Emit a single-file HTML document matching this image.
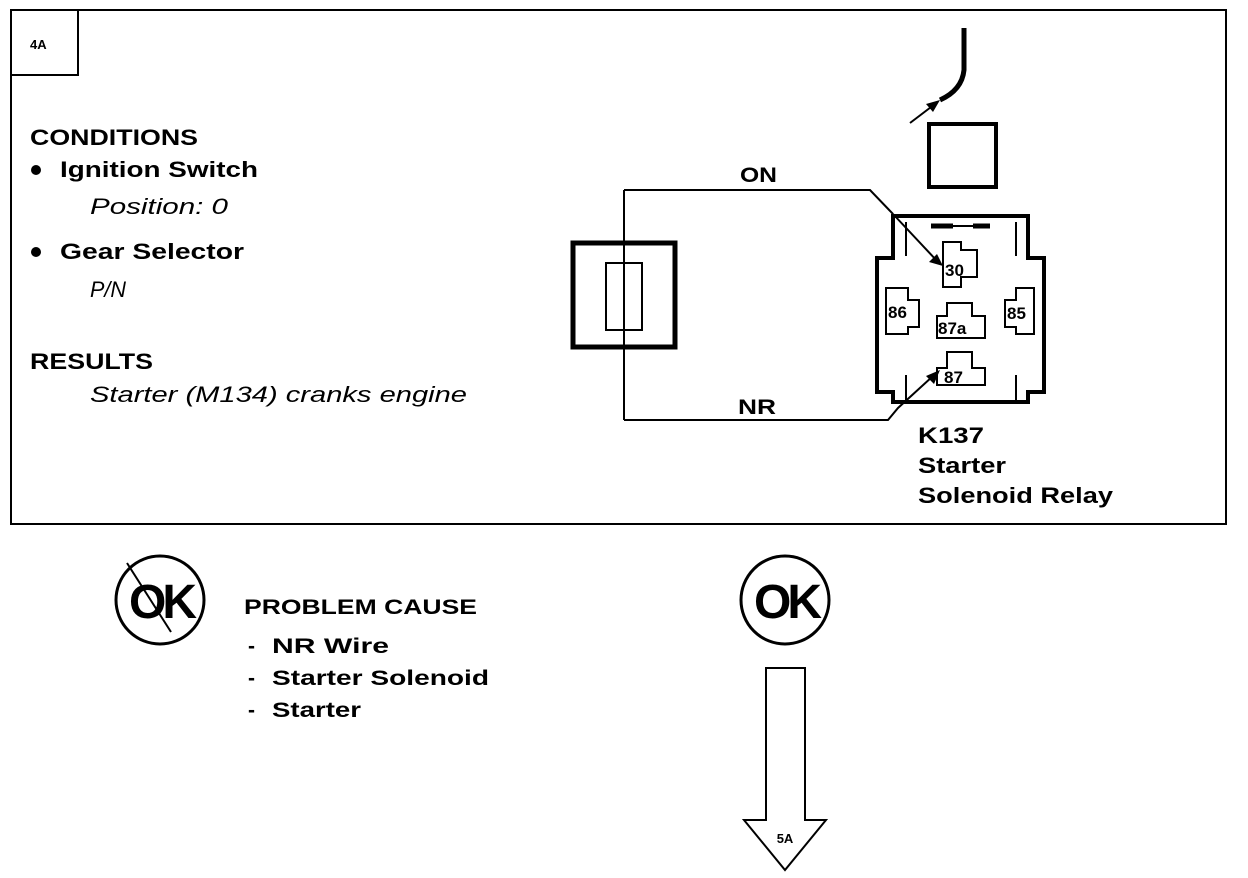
<!DOCTYPE html>
<html><head><style>body{margin:0;background:#fff}svg{display:block}text{font-family:"Liberation Sans",Arial,sans-serif;fill:#000}</style></head><body>
<svg width="1248" height="878" viewBox="0 0 1248 878" xmlns="http://www.w3.org/2000/svg">
<rect x="11" y="10" width="1215" height="514" fill="none" stroke="#000" stroke-width="2"/>
<path d="M11 75 H78 V10" fill="none" stroke="#000" stroke-width="2"/>
<text x="30" y="49" font-size="13" font-weight="bold">4A</text>
<g font-size="22" font-weight="bold">
<text x="30" y="145" textLength="168" lengthAdjust="spacingAndGlyphs">CONDITIONS</text>
<circle cx="36" cy="170" r="5"/><text x="60" y="177" textLength="198" lengthAdjust="spacingAndGlyphs">Ignition Switch</text>
<circle cx="36" cy="252" r="5"/><text x="60" y="259" textLength="184" lengthAdjust="spacingAndGlyphs">Gear Selector</text>
<text x="30" y="369" textLength="123" lengthAdjust="spacingAndGlyphs">RESULTS</text>
</g>
<g font-size="22" font-style="italic">
<text x="90" y="214" textLength="138" lengthAdjust="spacingAndGlyphs">Position: 0</text>
<text x="90" y="297" textLength="36" lengthAdjust="spacingAndGlyphs">P/N</text>
<text x="90" y="402" textLength="377" lengthAdjust="spacingAndGlyphs">Starter (M134) cranks engine</text>
</g>
<!-- fuse -->
<rect x="573" y="243" width="102" height="104" fill="none" stroke="#000" stroke-width="5"/>
<rect x="606" y="263" width="36" height="67" fill="none" stroke="#000" stroke-width="2"/>
<path d="M624 190 V420" stroke="#000" stroke-width="2" fill="none"/>
<path d="M624 190 H870 L893 214" stroke="#000" stroke-width="2" fill="none"/>
<path d="M893 214 L938 262" stroke="#000" stroke-width="2" fill="none"/>
<polygon points="943,266 929,262 937,254" fill="#000"/>
<path d="M624 420 H888 L898 408 L933 376" stroke="#000" stroke-width="2" fill="none"/>
<polygon points="940,370 934,384 926,376" fill="#000"/>
<text x="740" y="182" font-size="21" font-weight="bold" textLength="37" lengthAdjust="spacingAndGlyphs">ON</text>
<text x="738" y="414" font-size="21" font-weight="bold" textLength="38" lengthAdjust="spacingAndGlyphs">NR</text>
<!-- relay -->
<path d="M893 216 H1028 V258 H1044 V392 H1028 V402 H893 V392 H877 V258 H893 Z" fill="none" stroke="#000" stroke-width="4"/>
<path d="M906 222 V256 M1016 222 V256 M906 375 V400 M1016 375 V400" stroke="#000" stroke-width="2"/>
<path d="M931 226 H953 M973 226 H990" stroke="#000" stroke-width="5"/>
<path d="M953 226 H973" stroke="#000" stroke-width="2" fill="none"/>
<g fill="none" stroke="#000" stroke-width="2">
<path d="M943 242 H961 V250 H977 V277 H961 V287 H943 Z"/>
<path d="M886 288 H908 V300 H919 V327 H908 V334 H886 Z"/>
<path d="M1034 288 H1016 V300 H1005 V327 H1016 V334 H1034 Z"/>
<path d="M947 303 H972 V316 H985 V338 H937 V316 H947 Z"/>
<path d="M947 352 H972 V368 H985 V385 H937 V368 H947 Z"/>
</g>
<g font-size="17" font-weight="bold">
<text x="945" y="276">30</text>
<text x="888" y="318">86</text>
<text x="1007" y="319">85</text>
<text x="938" y="334">87a</text>
<text x="944" y="383">87</text>
</g>
<rect x="929" y="124" width="67" height="63" fill="none" stroke="#000" stroke-width="4"/>
<path d="M964 28 V70 Q962 90 940 100" stroke="#000" stroke-width="5" fill="none"/>
<path d="M910 123 L935 104" stroke="#000" stroke-width="2"/>
<polygon points="940,100 926,104 933,112" fill="#000"/>
<g font-size="22" font-weight="bold">
<text x="918" y="443" textLength="66" lengthAdjust="spacingAndGlyphs">K137</text>
<text x="918" y="473" textLength="88" lengthAdjust="spacingAndGlyphs">Starter</text>
<text x="918" y="503" textLength="195" lengthAdjust="spacingAndGlyphs">Solenoid Relay</text>
</g>
<!-- bottom -->
<circle cx="160" cy="600" r="44" fill="none" stroke="#000" stroke-width="3"/>
<text x="161" y="618" font-size="48" font-weight="bold" text-anchor="middle" letter-spacing="-4">OK</text>
<path d="M127 563 L171 632" stroke="#000" stroke-width="2"/>
<circle cx="785" cy="600" r="44" fill="none" stroke="#000" stroke-width="3"/>
<text x="786" y="618" font-size="48" font-weight="bold" text-anchor="middle" letter-spacing="-4">OK</text>
<g font-size="21" font-weight="bold">
<text x="244" y="614" textLength="233" lengthAdjust="spacingAndGlyphs">PROBLEM CAUSE</text>
<text x="248" y="653">-</text><text x="272" y="653" textLength="117" lengthAdjust="spacingAndGlyphs">NR  Wire</text>
<text x="248" y="685">-</text><text x="272" y="685" textLength="217" lengthAdjust="spacingAndGlyphs">Starter Solenoid</text>
<text x="248" y="717">-</text><text x="272" y="717" textLength="89" lengthAdjust="spacingAndGlyphs">Starter</text>
</g>
<path d="M766 668 H805 V820 H826 L785 870 L744 820 H766 Z" fill="none" stroke="#000" stroke-width="2"/>
<text x="785" y="843" font-size="13" font-weight="bold" text-anchor="middle">5A</text>
</svg>
</body></html>
